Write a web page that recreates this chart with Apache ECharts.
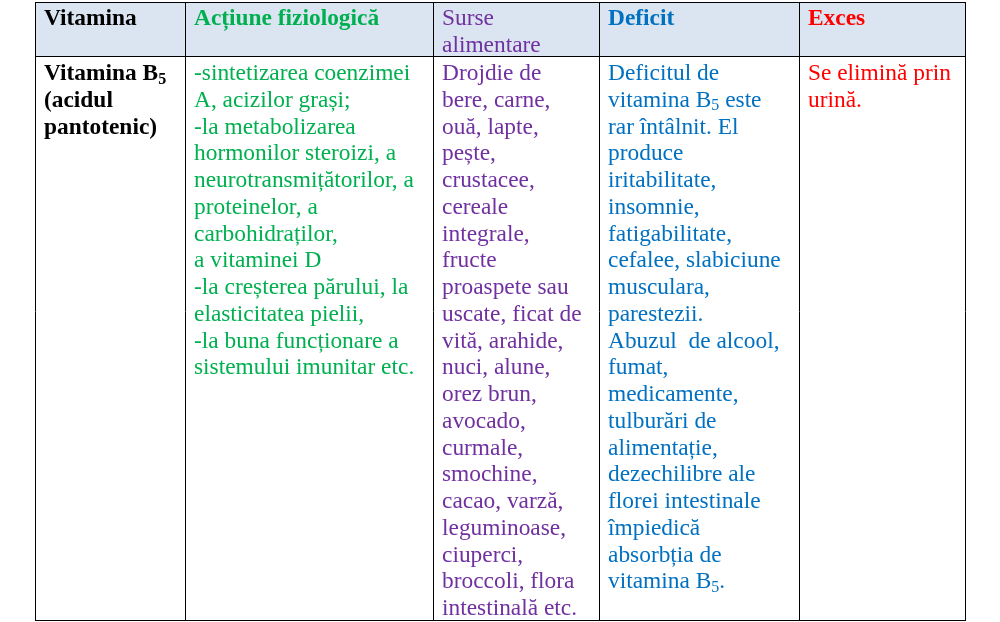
<!DOCTYPE html>
<html>
<head>
<meta charset="utf-8">
<script src="https://cdn.jsdelivr.net/npm/echarts@6/dist/echarts.min.js"></script>
<style>
html, body { margin: 0; padding: 0; background: #fff; }
#main { width: 1000px; height: 622px; }
</style>
</head>
<body>
<div id="main"></div>
<script>
// Table content
var headers = ['Vitamina', 'Acțiune fiziologică', 'Surse\nalimentare', 'Deficit', 'Exces'];
var headerBold = [true, true, false, true, true];
var colColors = ['#000000', '#00B050', '#7030A0', '#0070C0', '#FF0000'];

var vitaminaLines = ['Vitamina B{sub|5}', '(acidul', 'pantotenic)'];
var actiuneLines = [
    '-sintetizarea coenzimei', 'A, acizilor grași;', '-la metabolizarea',
    'hormonilor steroizi, a', 'neurotransmițătorilor, a', 'proteinelor, a',
    'carbohidraților,', 'a vitaminei D', '-la creșterea părului, la',
    'elasticitatea pielii,', '-la buna funcționare a', 'sistemului imunitar etc.'
];
var surseLines = [
    'Drojdie de', 'bere, carne,', 'ouă, lapte,', 'pește,', 'crustacee,',
    'cereale', 'integrale,', 'fructe', 'proaspete sau', 'uscate, ficat de',
    'vită, arahide,', 'nuci, alune,', 'orez brun,', 'avocado,', 'curmale,',
    'smochine,', 'cacao, varză,', 'leguminoase,', 'ciuperci,',
    'broccoli, flora', 'intestinală etc.'
];
var deficitLines = [
    'Deficitul de', 'vitamina B{sub|5} este', 'rar întâlnit. El', 'produce',
    'iritabilitate,', 'insomnie,', 'fatigabilitate,', 'cefalee, slabiciune',
    'musculara,', 'parestezii.', 'Abuzul  de alcool,', 'fumat,', 'medicamente,',
    'tulburări de', 'alimentație,', 'dezechilibre ale', 'florei intestinale',
    'împiedică', 'absorbția de', 'vitamina B{sub|5}.'
];
var excesLines = ['Se elimină prin', 'urină.'];
var bodyBold = [true, false, false, false, false];

// Layout
var colX = [35, 185, 433, 599, 799, 965];
var tableTop = 2, headerBottom = 56, tableBottom = 620;
var padLeft = 9;
var fontSize = 23.4;
var subSize = 16;
var lineH = 26.75;
var headerY = 19, bodyY = 74;
var fontFamily = '"Liberation Serif", "Times New Roman", serif';

function cellText(x, yCenter, text, color, bold) {
    return {
        type: 'text',
        x: x,
        y: yCenter - lineH / 2,
        style: {
            text: text,
            fill: color,
            font: (bold ? 'bold ' : '') + fontSize + 'px ' + fontFamily,
            lineHeight: lineH,
            verticalAlign: 'top',
            align: 'left',
            rich: {
                sub: {
                    fill: color,
                    fontSize: subSize,
                    fontWeight: bold ? 'bold' : 'normal',
                    fontFamily: fontFamily,
                    lineHeight: 18,
                    verticalAlign: 'bottom'
                }
            }
        }
    };
}

function buildTable() {
    var els = [];
    // header background
    els.push({
        type: 'rect',
        shape: { x: colX[0], y: tableTop, width: colX[5] - colX[0], height: headerBottom - tableTop },
        style: { fill: '#DBE5F1' }
    });
    var body = [vitaminaLines, actiuneLines, surseLines, deficitLines, excesLines];
    for (var i = 0; i < 5; i++) {
        els.push(cellText(colX[i] + padLeft, headerY, headers[i], colColors[i], headerBold[i]));
        els.push(cellText(colX[i] + padLeft, bodyY, body[i].join('\n'), colColors[i], bodyBold[i]));
    }
    // grid lines
    var lineStyle = { stroke: '#000', lineWidth: 1 };
    var ys = [tableTop, headerBottom, tableBottom];
    for (var j = 0; j < ys.length; j++) {
        els.push({ type: 'line', shape: { x1: colX[0], y1: ys[j] + 0.5, x2: colX[5], y2: ys[j] + 0.5 }, style: lineStyle });
    }
    for (var k = 0; k < colX.length; k++) {
        els.push({ type: 'line', shape: { x1: colX[k] + 0.5, y1: tableTop, x2: colX[k] + 0.5, y2: tableBottom + 1 }, style: lineStyle });
    }
    return els;
}

var myChart = echarts.init(document.getElementById('main'), null, { renderer: 'canvas' });
var option = {
    backgroundColor: '#ffffff',
    animation: false,
    graphic: { elements: buildTable() }
};
myChart.setOption(option);
</script>
</body>
</html>
